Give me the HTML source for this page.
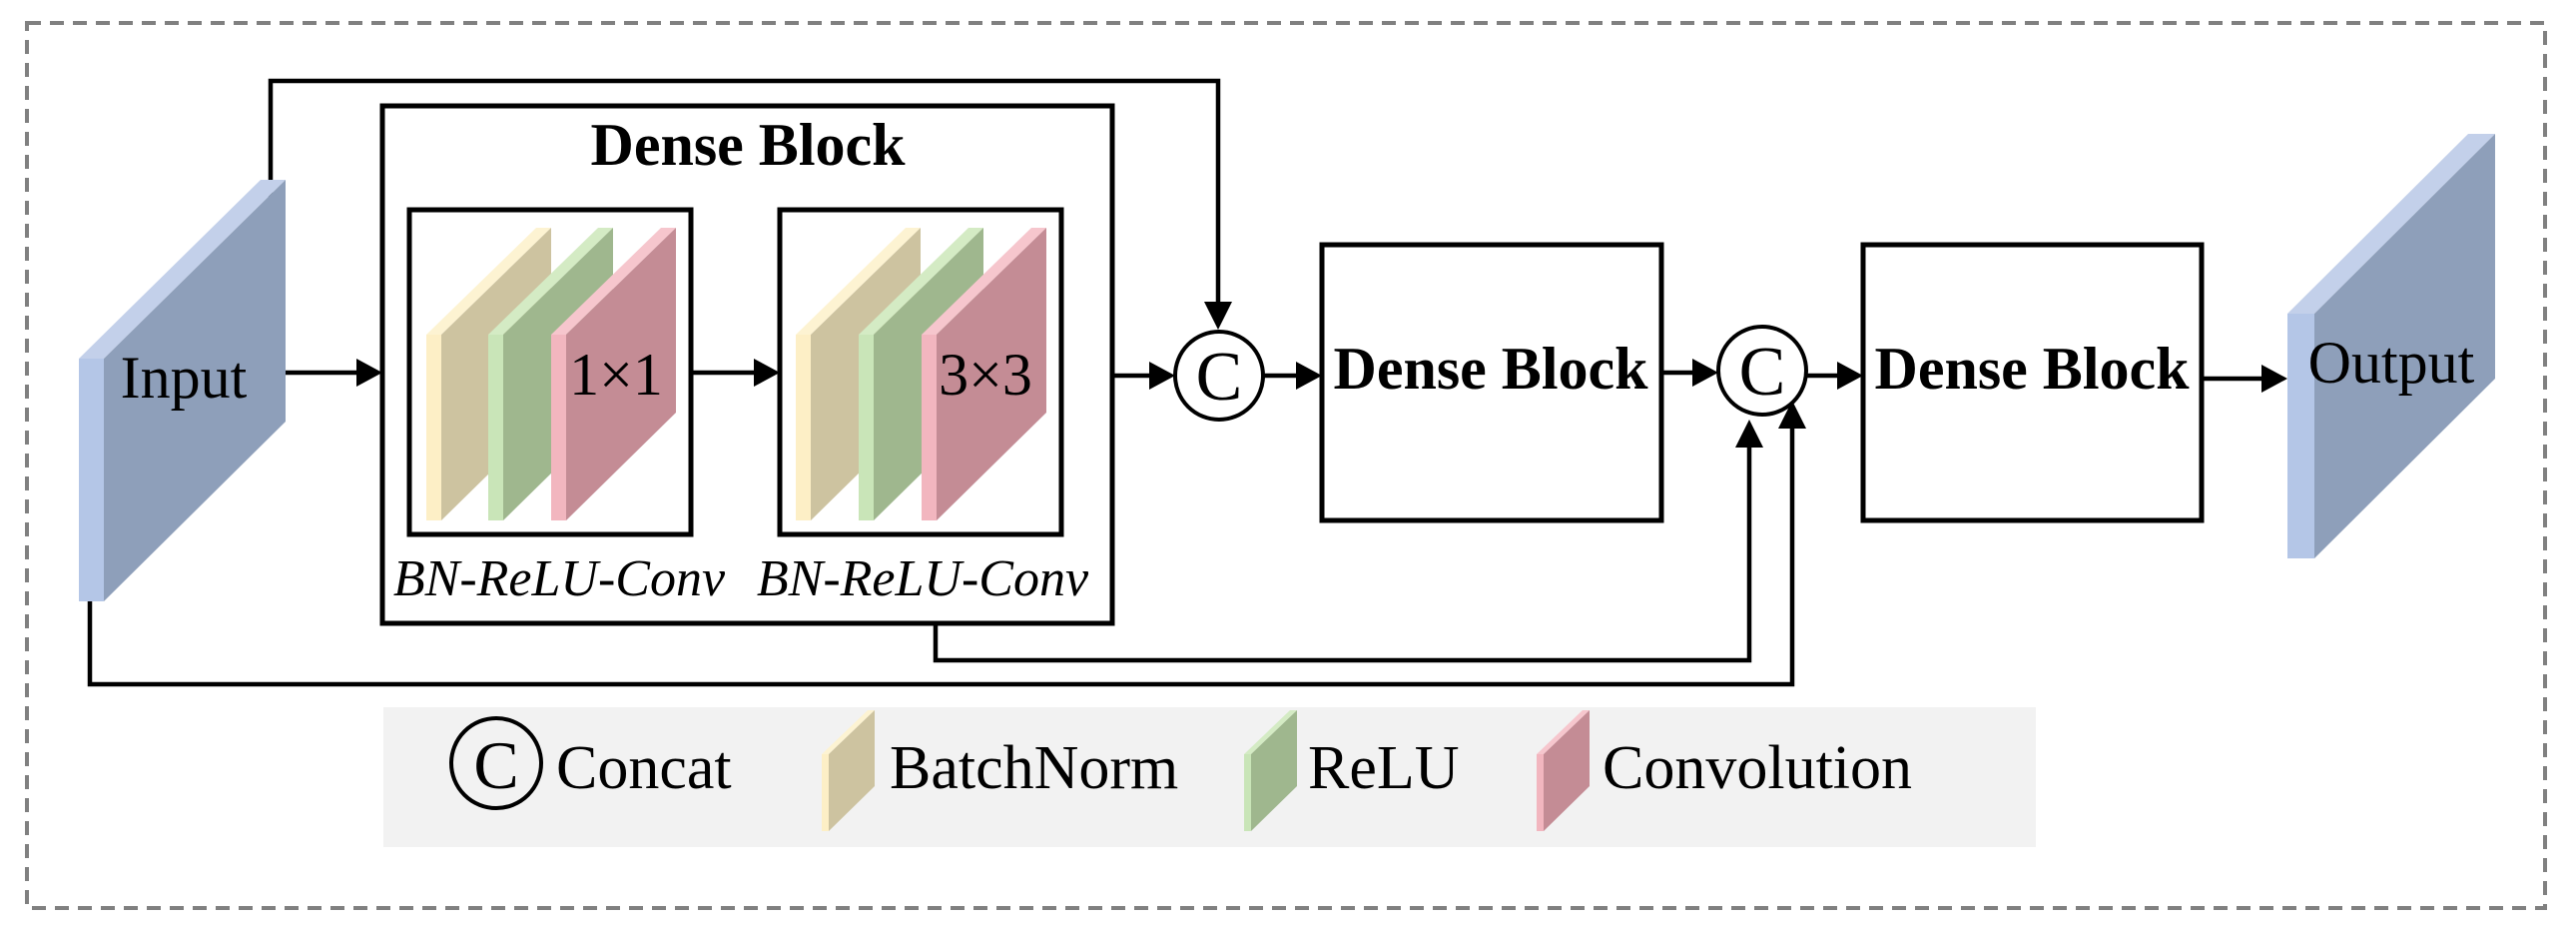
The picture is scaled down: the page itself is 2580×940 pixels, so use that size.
<!DOCTYPE html>
<html><head><meta charset="utf-8"><style>
html,body{margin:0;padding:0;background:#fff;}
svg{display:block;}
text{font-family:"Liberation Serif",serif;fill:#000;}
</style></head><body>
<svg width="2580" height="940" viewBox="0 0 2580 940" xmlns="http://www.w3.org/2000/svg">
<rect x="27" y="23" width="2522" height="886" fill="none" stroke="#808080" stroke-width="4" stroke-dasharray="14,9"/>

<path d="M271,200 V81 H1220 V310" fill="none" stroke="#000" stroke-width="4.5"/>

<!-- Input slab -->
<polygon points="79,359 261,180 286,180 104,359" fill="#c3d0ea"/>
<rect x="79" y="359" width="25" height="243" fill="#b4c6e7"/>
<polygon points="104,359 286,180 286,422 104,602" fill="#8e9fba"/>
<text x="184" y="398" font-size="60" text-anchor="middle">Input</text>

<!-- Output slab -->
<polygon points="2291,314 2472,134 2499,134 2318,314" fill="#c3d0ea"/>
<rect x="2291" y="314" width="27" height="245" fill="#b4c6e7"/>
<polygon points="2318,314 2499,134 2499,379 2318,559" fill="#8e9fba"/>
<text x="2395" y="383" font-size="60" text-anchor="middle">Output</text>

<!-- Outer dense block -->
<rect x="383" y="106" width="731" height="518" fill="none" stroke="#000" stroke-width="5"/>
<text x="749" y="165" font-size="60" font-weight="bold" text-anchor="middle">Dense Block</text>
<rect x="410" y="210" width="282" height="325" fill="none" stroke="#000" stroke-width="5"/>
<rect x="781" y="210" width="282" height="325" fill="none" stroke="#000" stroke-width="5"/>

<g>
<polygon points="427,335 537,228 552,228 442,335" fill="#fdf3d2"/>
<rect x="427" y="335" width="15" height="186" fill="#fdefc6"/>
<polygon points="442,335 552,228 552,413 442,521" fill="#cdc3a0"/>
<polygon points="489,335 599,228 614,228 504,335" fill="#d4ebc4"/>
<rect x="489" y="335" width="15" height="186" fill="#c9e5b8"/>
<polygon points="504,335 614,228 614,413 504,521" fill="#9fb78e"/>
<polygon points="552,335 662,228 677,228 567,335" fill="#f6c6cd"/>
<rect x="552" y="335" width="15" height="186" fill="#f2b6bf"/>
<polygon points="567,335 677,228 677,413 567,521" fill="#c48c95"/>
</g>
<g>
<polygon points="797,335 907,228 922,228 812,335" fill="#fdf3d2"/>
<rect x="797" y="335" width="15" height="186" fill="#fdefc6"/>
<polygon points="812,335 922,228 922,413 812,521" fill="#cdc3a0"/>
<polygon points="860,335 970,228 985,228 875,335" fill="#d4ebc4"/>
<rect x="860" y="335" width="15" height="186" fill="#c9e5b8"/>
<polygon points="875,335 985,228 985,413 875,521" fill="#9fb78e"/>
<polygon points="923,335 1033,228 1048,228 938,335" fill="#f6c6cd"/>
<rect x="923" y="335" width="15" height="186" fill="#f2b6bf"/>
<polygon points="938,335 1048,228 1048,413 938,521" fill="#c48c95"/>
</g>
<text x="617" y="395" font-size="60" text-anchor="middle">1×1</text>
<text x="987" y="395" font-size="60" text-anchor="middle">3×3</text>
<text x="560" y="596" font-size="52" font-style="italic" text-anchor="middle">BN-ReLU-Conv</text>
<text x="924" y="596" font-size="52" font-style="italic" text-anchor="middle">BN-ReLU-Conv</text>

<rect x="1324" y="245" width="340" height="276" fill="none" stroke="#000" stroke-width="5"/>
<text x="1493" y="389" font-size="60" font-weight="bold" text-anchor="middle">Dense Block</text>
<rect x="1866" y="245" width="339" height="276" fill="none" stroke="#000" stroke-width="5"/>
<text x="2035" y="389" font-size="60" font-weight="bold" text-anchor="middle">Dense Block</text>

<circle cx="1221" cy="376" r="44" fill="#fff" stroke="#000" stroke-width="4"/>
<text x="1221" y="400" font-size="70" text-anchor="middle">C</text>
<circle cx="1765" cy="371" r="44" fill="#fff" stroke="#000" stroke-width="4"/>
<text x="1765" y="395" font-size="70" text-anchor="middle">C</text>

<g fill="none" stroke="#000" stroke-width="4.5">
<path d="M286,373 H360"/>
<path d="M692,373 H758"/>
<path d="M1114,376 H1152"/>
<path d="M1266,376 H1300"/>
<path d="M1664,373 H1696"/>
<path d="M1810,376 H1842"/>
<path d="M2205,379 H2268"/>
<path d="M937,624 V661 H1752 V444"/>
<path d="M90,602 V685 H1795 V425"/>
</g>
<g fill="#000">
<polygon points="1220,330 1206,302 1234,302"/>
<polygon points="383,373 357,359 357,387"/>
<polygon points="781,373 755,359 755,387"/>
<polygon points="1177,376 1151,362 1151,390"/>
<polygon points="1324,376 1298,362 1298,390"/>
<polygon points="1721,373 1695,359 1695,387"/>
<polygon points="1866,376 1840,362 1840,390"/>
<polygon points="2291,379 2265,365 2265,393"/>
<polygon points="1752,420 1738,448 1766,448"/>
<polygon points="1795,401 1781,429 1809,429"/>
</g>

<rect x="384" y="708" width="1655" height="140" fill="#f2f2f2"/>
<circle cx="497" cy="764" r="45" fill="none" stroke="#000" stroke-width="4"/>
<text x="497" y="789" font-size="68" text-anchor="middle">C</text>
<text x="557" y="789" font-size="62">Concat</text>

<polygon points="823,755 869,711 876,711 830,755" fill="#fdf3d2"/>
<rect x="823" y="755" width="7" height="77" fill="#fdefc6"/>
<polygon points="830,755 876,711 876,787 830,832" fill="#cdc3a0"/>
<text x="891" y="789" font-size="62">BatchNorm</text>

<polygon points="1246,755 1292,711 1299,711 1253,755" fill="#d4ebc4"/>
<rect x="1246" y="755" width="7" height="77" fill="#c9e5b8"/>
<polygon points="1253,755 1299,711 1299,787 1253,832" fill="#9fb78e"/>
<text x="1310" y="789" font-size="62">ReLU</text>

<polygon points="1539,755 1585,711 1592,711 1546,755" fill="#f6c6cd"/>
<rect x="1539" y="755" width="7" height="77" fill="#f2b6bf"/>
<polygon points="1546,755 1592,711 1592,787 1546,832" fill="#c48c95"/>
<text x="1605" y="789" font-size="62">Convolution</text>
</svg>
</body></html>
